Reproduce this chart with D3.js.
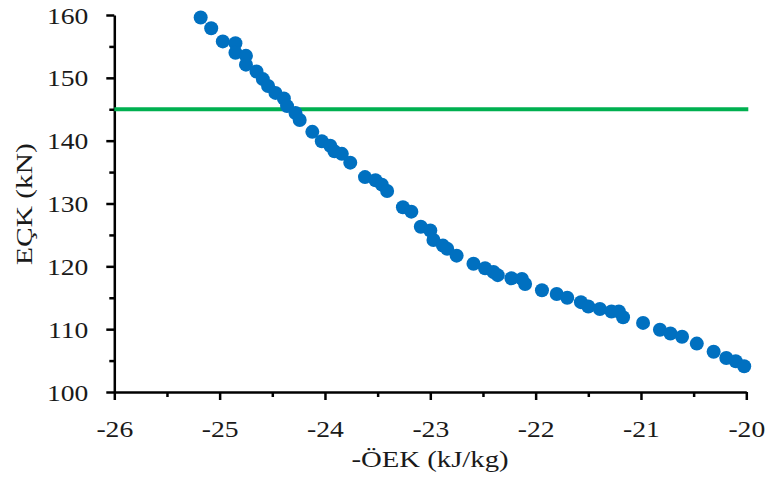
<!DOCTYPE html>
<html>
<head>
<meta charset="utf-8">
<script src="https://cdn.jsdelivr.net/npm/d3@7"></script>
<style>
  body { margin: 0; background: #fff; }
  text { font-family: "Liberation Serif", "Times New Roman", serif; fill: #1a1a1a; }
  .axis path, .axis line { stroke: #000; }
</style>
</head>
<body>
<script>
// -ÖEK (kJ/kg) values
var oekValues = [-25.18, -25.08, -24.97, -24.85, -24.85, -24.75, -24.75, -24.65, -24.59, -24.54,
                 -24.47, -24.39, -24.36, -24.28, -24.24, -24.12, -24.03, -23.95, -23.91, -23.84,
                 -23.76, -23.62, -23.52, -23.46, -23.41, -23.26, -23.18, -23.09, -23.00, -22.97,
                 -22.88, -22.84, -22.75, -22.59, -22.48, -22.40, -22.36, -22.23, -22.13, -22.10,
                 -21.94, -21.80, -21.70, -21.57, -21.50, -21.39, -21.28, -21.21, -21.17, -20.98,
                 -20.82, -20.72, -20.61, -20.47, -20.31, -20.19, -20.10, -20.02];
// EÇK (kN) values
var eckValues = [159.6, 157.9, 155.8, 155.5, 154.0, 153.5, 152.1, 151.0, 149.8, 148.7,
                 147.6, 146.7, 145.5, 144.4, 143.3, 141.4, 139.9, 139.2, 138.3, 137.9,
                 136.5, 134.2, 133.7, 133.0, 132.0, 129.4, 128.7, 126.3, 125.7, 124.2,
                 123.3, 122.8, 121.7, 120.4, 119.7, 119.1, 118.6, 118.1, 118.0, 117.2,
                 116.2, 115.6, 115.0, 114.3, 113.6, 113.2, 112.8, 112.8, 111.9, 111.0,
                 109.9, 109.3, 108.8, 107.7, 106.4, 105.4, 104.9, 104.1];
var limitValue = 145;

var xTicks = [-26, -25, -24, -23, -22, -21, -20];
var xMinorTicks = [-25.5, -24.5, -23.5, -22.5, -21.5, -20.5];
var yTicks = [100, 110, 120, 130, 140, 150, 160];
var yMinorTicks = [105, 115, 125, 135, 145, 155];

const WIDTH = 766, HEIGHT = 489;
var plot = { left: 114.3, right: 746.3, top: 15, bottom: 392 };
const STRETCH = 1.2;

var svg = d3.select("body").append("svg")
    .attr("width", WIDTH)
    .attr("height", HEIGHT);

var x = d3.scaleLinear().domain([-26, -20]).range([plot.left, plot.right]);
var y = d3.scaleLinear().domain([100, 160]).range([plot.bottom, plot.top]);

// minor ticks
svg.append("g")
    .attr("class", "axis")
    .attr("transform", "translate(0," + plot.bottom + ")")
    .call(d3.axisBottom(x).tickValues(xMinorTicks).tickSize(5).tickSizeOuter(0).tickFormat(""))
    .call(g => g.select(".domain").remove())
    .selectAll("line").attr("stroke-width", 2.5);

svg.append("g")
    .attr("class", "axis")
    .attr("transform", "translate(" + plot.left + ",0)")
    .call(d3.axisLeft(y).tickValues(yMinorTicks).tickSize(5).tickSizeOuter(0).tickFormat(""))
    .call(g => g.select(".domain").remove())
    .selectAll("line").attr("stroke-width", 2.5);

// x axis (plain hyphen for the minus sign)
var gx = svg.append("g")
    .attr("class", "axis")
    .attr("transform", "translate(0," + plot.bottom + ")")
    .call(d3.axisBottom(x).tickValues(xTicks).tickSize(8).tickSizeOuter(0)
        .tickFormat(function(d) { return String(d); }));
gx.select(".domain").attr("stroke-width", 2.5);
gx.selectAll("line").attr("stroke-width", 2.5);
gx.selectAll("text")
    .attr("y", 0).attr("dy", null)
    .attr("font-size", 23)
    .attr("transform", "translate(0,45) scale(" + STRETCH + ",1)");

// y axis
var gy = svg.append("g")
    .attr("class", "axis")
    .attr("transform", "translate(" + plot.left + ",0)")
    .call(d3.axisLeft(y).tickValues(yTicks).tickSize(8).tickSizeOuter(0));
gy.select(".domain").attr("stroke-width", 2.5);
gy.selectAll("line").attr("stroke-width", 2.5);
gy.selectAll("text")
    .attr("x", 0).attr("dy", null).attr("y", 0)
    .attr("font-size", 23)
    .attr("transform", "translate(-26,8) scale(" + STRETCH + ",1)");

// limit line
svg.append("line")
    .attr("x1", x(-26)).attr("x2", x(-20) + 2)
    .attr("y1", y(limitValue)).attr("y2", y(limitValue))
    .attr("stroke", "#00B050")
    .attr("stroke-width", 4);

// points
svg.append("g")
    .selectAll("circle")
    .data(oekValues)
    .enter()
    .append("circle")
    .attr("cx", function(d) { return x(d); })
    .attr("cy", function(d, i) { return y(eckValues[i]); })
    .attr("r", 7)
    .attr("fill", "#0070C0");

// axis titles
svg.append("text")
    .attr("text-anchor", "middle")
    .attr("font-size", 23)
    .attr("transform", "translate(430,467) scale(1.25,1)")
    .text("-ÖEK (kJ/kg)");

svg.append("text")
    .attr("text-anchor", "middle")
    .attr("font-size", 23)
    .attr("transform", "translate(32,204) rotate(-90) scale(1.28,1)")
    .text("EÇK (kN)");
</script>
</body>
</html>
